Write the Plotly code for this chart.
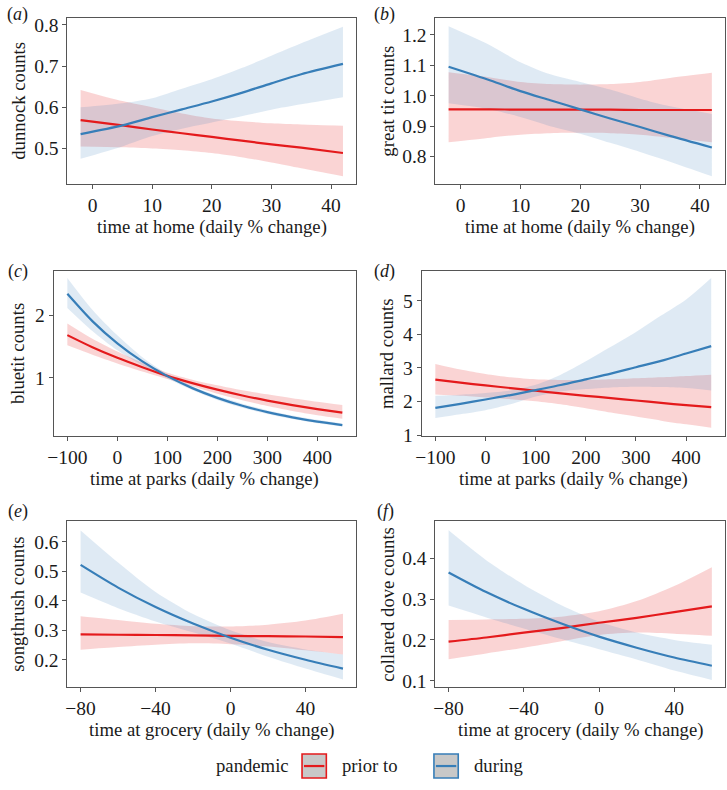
import plotly.graph_objects as go

# ---------------- data ----------------
# (a) dunnock vs time at home
a_x = [-2, 5, 10, 15, 20, 25, 30, 35, 42]
a_prior = [0.569, 0.556, 0.546, 0.537, 0.528, 0.519, 0.510, 0.502, 0.489]
a_prior_hi = [0.642, 0.615, 0.600, 0.585, 0.573, 0.566, 0.561, 0.558, 0.555]
a_prior_lo = [0.505, 0.503, 0.500, 0.496, 0.489, 0.479, 0.466, 0.452, 0.433]
a_during = [0.535, 0.556, 0.576, 0.595, 0.614, 0.635, 0.658, 0.680, 0.705]
a_during_hi = [0.600, 0.610, 0.622, 0.645, 0.668, 0.695, 0.725, 0.755, 0.795]
a_during_lo = [0.475, 0.505, 0.530, 0.548, 0.563, 0.578, 0.594, 0.607, 0.624]

# (b) great tit vs time at home
b_x = [-2, 5, 10, 15, 20, 25, 30, 35, 42]
b_prior = [0.955, 0.955, 0.954, 0.954, 0.954, 0.954, 0.953, 0.953, 0.953]
b_prior_hi = [1.077, 1.060, 1.045, 1.038, 1.036, 1.038, 1.045, 1.058, 1.075]
b_prior_lo = [0.847, 0.862, 0.872, 0.877, 0.878, 0.877, 0.872, 0.862, 0.847]
b_during = [1.095, 1.050, 1.015, 0.985, 0.955, 0.925, 0.897, 0.868, 0.830]
b_during_hi = [1.228, 1.165, 1.110, 1.070, 1.045, 1.020, 0.990, 0.965, 0.940]
b_during_lo = [0.975, 0.955, 0.930, 0.900, 0.875, 0.845, 0.815, 0.783, 0.735]

# (c) bluetit vs time at parks
c_x = [-100, -50, 0, 50, 100, 150, 200, 250, 300, 350, 400, 450]
c_prior = [1.684, 1.49, 1.32, 1.17, 1.03, 0.914, 0.809, 0.716, 0.634, 0.561, 0.497, 0.44]
c_prior_hi = [1.87, 1.625, 1.42, 1.24, 1.08, 0.97, 0.88, 0.80, 0.735, 0.673, 0.616, 0.563]
c_prior_lo = [1.52, 1.37, 1.23, 1.10, 0.98, 0.862, 0.742, 0.639, 0.547, 0.468, 0.40, 0.344]
c_during = [2.347, 1.909, 1.552, 1.262, 1.026, 0.834, 0.678, 0.551, 0.448, 0.365, 0.296, 0.241]
c_during_hi = [2.60, 2.09, 1.68, 1.33, 1.06, 0.865, 0.71, 0.585, 0.48, 0.395, 0.325, 0.268]
c_during_lo = [2.12, 1.75, 1.44, 1.20, 0.99, 0.805, 0.645, 0.52, 0.42, 0.338, 0.272, 0.218]

# (d) mallard vs time at parks
d_x = [-100, -50, 0, 50, 100, 150, 200, 250, 300, 350, 400, 450]
d_prior = [2.65, 2.56, 2.48, 2.40, 2.32, 2.24, 2.17, 2.10, 2.03, 1.96, 1.89, 1.83]
d_prior_hi = [3.12, 2.95, 2.82, 2.72, 2.66, 2.64, 2.64, 2.66, 2.69, 2.72, 2.76, 2.80]
d_prior_lo = [2.21, 2.17, 2.12, 2.07, 2.01, 1.92, 1.80, 1.67, 1.55, 1.43, 1.32, 1.22]
d_during = [1.81, 1.93, 2.06, 2.19, 2.34, 2.49, 2.66, 2.83, 3.02, 3.21, 3.43, 3.65]
d_during_hi = [2.17, 2.20, 2.25, 2.33, 2.50, 2.80, 3.20, 3.63, 4.07, 4.56, 5.04, 5.68]
d_during_lo = [1.51, 1.62, 1.74, 1.92, 2.15, 2.30, 2.37, 2.42, 2.44, 2.43, 2.40, 2.33]

# (e) songthrush vs time at grocery
e_x = [-80, -60, -40, -20, 0, 20, 40, 60]
e_prior = [0.286, 0.285, 0.284, 0.283, 0.281, 0.280, 0.279, 0.277]
e_prior_hi = [0.348, 0.335, 0.322, 0.314, 0.313, 0.319, 0.333, 0.356]
e_prior_lo = [0.234, 0.243, 0.251, 0.256, 0.253, 0.245, 0.232, 0.218]
e_during = [0.522, 0.445, 0.379, 0.323, 0.275, 0.234, 0.200, 0.170]
e_during_hi = [0.639, 0.530, 0.430, 0.355, 0.300, 0.260, 0.235, 0.218]
e_during_lo = [0.428, 0.375, 0.330, 0.293, 0.255, 0.210, 0.170, 0.133]

# (f) collared dove vs time at grocery
f_x = [-80, -60, -40, -20, 0, 20, 40, 60]
f_prior = [0.196, 0.206, 0.218, 0.229, 0.242, 0.254, 0.268, 0.282]
f_prior_hi = [0.249, 0.250, 0.252, 0.257, 0.270, 0.295, 0.332, 0.378]
f_prior_lo = [0.153, 0.167, 0.181, 0.197, 0.212, 0.218, 0.215, 0.210]
f_during = [0.365, 0.317, 0.276, 0.240, 0.208, 0.181, 0.157, 0.137]
f_during_hi = [0.468, 0.395, 0.335, 0.285, 0.245, 0.218, 0.200, 0.188]
f_during_lo = [0.284, 0.255, 0.228, 0.202, 0.177, 0.152, 0.125, 0.102]

panel_letters = ["a", "b", "c", "d", "e", "f"]
y_titles = ["dunnock counts", "great tit counts", "bluetit counts",
            "mallard counts", "songthrush counts", "collared dove counts"]
x_titles = ["time at home (daily % change)", "time at home (daily % change)",
            "time at parks (daily % change)", "time at parks (daily % change)",
            "time at grocery (daily % change)", "time at grocery (daily % change)"]
y_ticks = [[0.5, 0.6, 0.7, 0.8], [0.8, 0.9, 1.0, 1.1, 1.2], [1, 2],
           [1, 2, 3, 4, 5], [0.2, 0.3, 0.4, 0.5, 0.6], [0.1, 0.2, 0.3, 0.4]]
y_tickfmt = [".1f", ".1f", "d", "d", ".1f", ".1f"]
x_ticks = [[0, 10, 20, 30, 40], [0, 10, 20, 30, 40],
           [-100, 0, 100, 200, 300, 400], [-100, 0, 100, 200, 300, 400],
           [-80, -40, 0, 40], [-80, -40, 0, 40]]
x_ranges = [[-4.2, 44.2], [-4.2, 44.2], [-127.5, 477.5], [-127.5, 477.5],
            [-87, 67], [-87, 67]]
y_ranges = [[0.414, 0.817], [0.71, 1.256], [0.07, 2.72], [0.98, 5.9],
            [0.109, 0.67], [0.086, 0.49]]
legend_labels = ["prior to", "during"]
legend_title = "pandemic"

panels = [
    (a_x, a_prior, a_prior_lo, a_prior_hi, a_during, a_during_lo, a_during_hi),
    (b_x, b_prior, b_prior_lo, b_prior_hi, b_during, b_during_lo, b_during_hi),
    (c_x, c_prior, c_prior_lo, c_prior_hi, c_during, c_during_lo, c_during_hi),
    (d_x, d_prior, d_prior_lo, d_prior_hi, d_during, d_during_lo, d_during_hi),
    (e_x, e_prior, e_prior_lo, e_prior_hi, e_during, e_during_lo, e_during_hi),
    (f_x, f_prior, f_prior_lo, f_prior_hi, f_during, f_during_lo, f_during_hi),
]

# ---------------- styling / layout ----------------
W, H = 727, 790
FONT = "Liberation Serif, Times New Roman, serif"
RED = "#E41A1C"
BLUE = "#377EB8"
RED_FILL = "rgba(228,26,28,0.19)"
BLUE_FILL = "rgba(55,126,184,0.16)"
AX_COLOR = "#555555"
TXT = "#1a1a1a"
FS = 18.7
FS_TICK = 19.5

# panel boxes in pixels: (left, right, top, bottom)
boxes = [(62, 353, 15, 184), (433, 725, 15, 184),
         (48, 353, 272, 440), (419, 725, 272, 440),
         (62, 353, 527, 695), (433, 725, 527, 695)]
ytitle_x = [13, 385, 11, 383, 12, 385]
label_pos = [(12, 12), (382, 12), (12, 273), (382, 273), (12, 517), (383, 517)]


def px(x):
    return x / W


def py(y):
    return 1 - y / H


fig = go.Figure()
layout = dict(width=W, height=H, margin=dict(l=0, r=0, t=0, b=0),
              paper_bgcolor="white", plot_bgcolor="white", showlegend=False,
              font=dict(family=FONT, size=FS, color=TXT))
annotations = []
shapes = []

for i, (xs, pr, prl, prh, du, dul, duh) in enumerate(panels):
    k = "" if i == 0 else str(i + 1)
    xa, ya = "x" + k, "y" + k
    sm = dict(shape="spline", smoothing=0.8)
    fig.add_trace(go.Scatter(x=xs, y=prl, xaxis=xa, yaxis=ya, mode="lines",
                             line=dict(width=0, **sm), hoverinfo="skip"))
    fig.add_trace(go.Scatter(x=xs, y=prh, xaxis=xa, yaxis=ya, mode="lines",
                             line=dict(width=0, **sm), fill="tonexty",
                             fillcolor=RED_FILL, hoverinfo="skip"))
    fig.add_trace(go.Scatter(x=xs, y=dul, xaxis=xa, yaxis=ya, mode="lines",
                             line=dict(width=0, **sm), hoverinfo="skip"))
    fig.add_trace(go.Scatter(x=xs, y=duh, xaxis=xa, yaxis=ya, mode="lines",
                             line=dict(width=0, **sm), fill="tonexty",
                             fillcolor=BLUE_FILL, hoverinfo="skip"))
    fig.add_trace(go.Scatter(x=xs, y=pr, xaxis=xa, yaxis=ya, mode="lines",
                             name=legend_labels[0],
                             line=dict(color=RED, width=2.2, **sm)))
    fig.add_trace(go.Scatter(x=xs, y=du, xaxis=xa, yaxis=ya, mode="lines",
                             name=legend_labels[1],
                             line=dict(color=BLUE, width=2.2, **sm)))

    l, r, t, b = boxes[i]
    common = dict(showline=True, mirror=True, linecolor=AX_COLOR, linewidth=1,
                  ticks="outside", ticklen=4, tickwidth=1, tickcolor=AX_COLOR,
                  showgrid=False, zeroline=False,
                  tickfont=dict(family=FONT, size=FS_TICK, color=TXT))
    layout["xaxis" + k] = dict(domain=[px(l), px(r)], anchor=ya,
                               range=x_ranges[i], tickvals=x_ticks[i], **common)
    layout["yaxis" + k] = dict(domain=[py(b), py(t)], anchor=xa,
                               range=y_ranges[i], tickvals=y_ticks[i],
                               tickformat=y_tickfmt[i], **common)
    # axis titles
    annotations.append(dict(text=x_titles[i], xref="paper", yref="paper",
                            x=px((l + r) / 2), y=py(b + 44), xanchor="center",
                            yanchor="middle", showarrow=False,
                            font=dict(family=FONT, size=FS, color=TXT)))
    annotations.append(dict(text=y_titles[i], xref="paper", yref="paper",
                            x=px(ytitle_x[i]), y=py((t + b) / 2), textangle=-90,
                            xanchor="center", yanchor="middle", showarrow=False,
                            font=dict(family=FONT, size=FS, color=TXT)))
    lx, ly = label_pos[i]
    annotations.append(dict(text="(<i>" + panel_letters[i] + "</i>)",
                            xref="paper", yref="paper", x=px(lx), y=py(ly),
                            xanchor="center", yanchor="middle", showarrow=False,
                            font=dict(family=FONT, size=18, color=TXT)))

# manual legend at the bottom
leg_y = 775.5
annotations.append(dict(text=legend_title, xref="paper", yref="paper",
                        x=px(287), y=py(leg_y), xanchor="right", yanchor="middle",
                        showarrow=False,
                        font=dict(family=FONT, size=FS, color=TXT)))
for (x0, col, lab, tx) in [(298.5, RED, legend_labels[0], 337),
                           (431.5, BLUE, legend_labels[1], 470)]:
    shapes.append(dict(type="rect", xref="paper", yref="paper",
                       x0=px(x0), x1=px(x0 + 24.5), y0=py(788), y1=py(763.5),
                       fillcolor="#c8c8c8", line=dict(color=col, width=1.6)))
    shapes.append(dict(type="line", xref="paper", yref="paper",
                       x0=px(x0 + 2), x1=px(x0 + 22.5), y0=py(775.8),
                       y1=py(775.8), line=dict(color=col, width=2.2)))
    annotations.append(dict(text=lab, xref="paper", yref="paper", x=px(tx),
                            y=py(leg_y), xanchor="left", yanchor="middle",
                            showarrow=False,
                            font=dict(family=FONT, size=FS, color=TXT)))

layout["annotations"] = annotations
layout["shapes"] = shapes
fig.update_layout(**layout)
fig.write_html(
    "out.html",
    config={"displayModeBar": False},
    post_script="document.body.style.margin='0px';"
                "document.body.style.overflow='hidden';",
)
